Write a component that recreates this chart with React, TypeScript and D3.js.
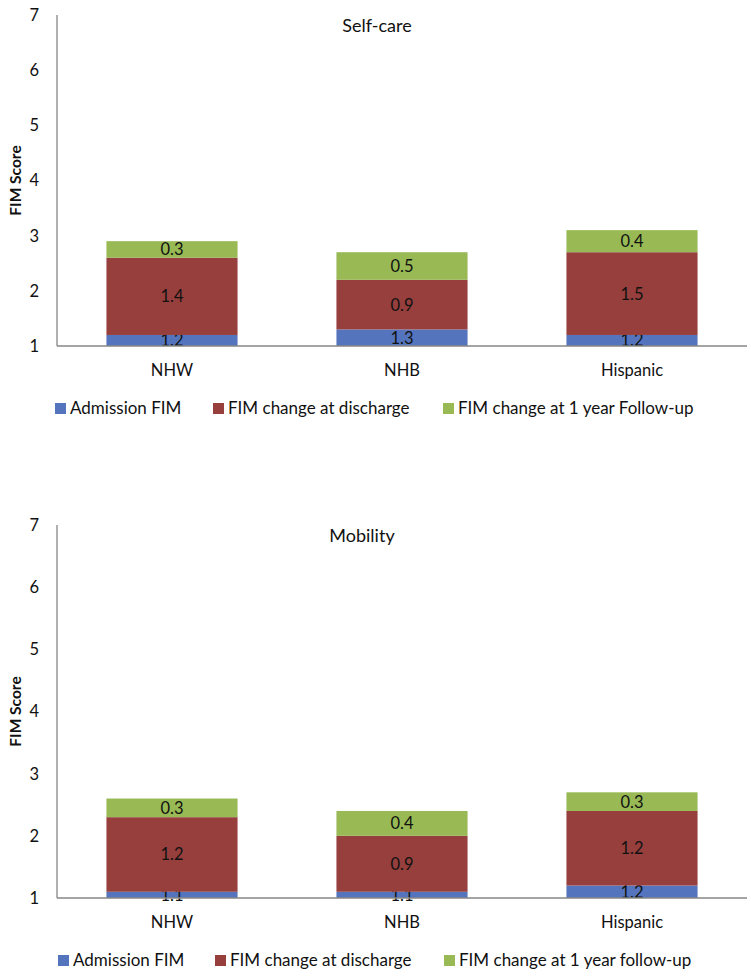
import React from 'react';
import * as d3 from 'd3';

const categories = ['NHW', 'NHB', 'Hispanic'];
const seriesKeys = ['admission', 'discharge', 'followUp'];
const seriesColors = ['#5475BD', '#963F3D', '#98B954'];

const selfCareAdmission = [1.2, 1.3, 1.2];
const selfCareDischarge = [1.4, 0.9, 1.5];
const selfCareFollowUp = [0.3, 0.5, 0.4];
const selfCareLegend = ['Admission FIM', 'FIM change at discharge', 'FIM change at 1 year Follow-up'];

const mobilityAdmission = [1.1, 1.1, 1.2];
const mobilityDischarge = [1.2, 0.9, 1.2];
const mobilityFollowUp = [0.3, 0.4, 0.3];
const mobilityLegend = ['Admission FIM', 'FIM change at discharge', 'FIM change at 1 year follow-up'];

const yTicks = [1, 2, 3, 4, 5, 6, 7];

const FONT = 'Lato, "Open Sans", sans-serif';

type PanelProps = {
  title: string;
  admission: number[];
  discharge: number[];
  followUp: number[];
  legend: string[];
  top: number;
  bottom: number;
  titleX: number;
  legendX: number[];
};

function Panel({ title, admission, discharge, followUp, legend, top, bottom, titleX, legendX }: PanelProps) {
  const left = 57;
  const right = 747;
  const rows = categories.map((c, i) => ({
    cat: c,
    admission: admission[i],
    discharge: discharge[i],
    followUp: followUp[i],
  }));
  const stacked = d3.stack<any>().keys(seriesKeys)(rows);
  const x = d3.scaleBand().domain(categories).range([left, right]).paddingInner(0.43).paddingOuter(0.215);
  const y = d3.scaleLinear().domain([1, 7]).range([bottom, top]).clamp(true);
  const mid = (top + bottom) / 2;
  return (
    <g fontFamily={FONT}>
      {stacked.map((s, si) =>
        s.map((d, i) => {
          const y0 = y(d[0]);
          const y1 = y(d[1]);
          const val = (d.data as any)[seriesKeys[si]];
          return (
            <g key={`${si}-${i}`}>
              <rect x={x(categories[i])} y={y1} width={x.bandwidth()} height={y0 - y1} fill={seriesColors[si]} />
              <text
                x={(x(categories[i]) as number) + x.bandwidth() / 2}
                y={(y0 + y1) / 2}
                dy="0.36em"
                textAnchor="middle"
                fontSize={16.5}
                fill="#111"
              >
                {val.toFixed(1)}
              </text>
            </g>
          );
        })
      )}
      <line x1={left} x2={left} y1={top} y2={bottom} stroke="#868686" strokeWidth={1.3} />
      <line x1={left} x2={right} y1={bottom} y2={bottom} stroke="#868686" strokeWidth={1.3} />
      {yTicks.map((t) => (
        <text key={t} x={39} y={y(t)} dy="0.36em" textAnchor="end" fontSize={16.5} fill="#111">
          {t}
        </text>
      ))}
      <text
        transform={`translate(15,${mid}) rotate(-90)`}
        textAnchor="middle"
        dy="0.36em"
        fontSize={15.5}
        fontWeight="bold"
        fill="#111"
      >
        FIM Score
      </text>
      {categories.map((c) => (
        <text
          key={c}
          x={(x(c) as number) + x.bandwidth() / 2}
          y={bottom + 24}
          dy="0.36em"
          textAnchor="middle"
          fontSize={16.5}
          fill="#111"
        >
          {c}
        </text>
      ))}
      <text x={titleX} y={top + 11} dy="0.36em" textAnchor="middle" fontSize={18} fill="#111">
        {title}
      </text>
      {legend.map((l, i) => (
        <g key={l} transform={`translate(${legendX[i]},${bottom + 62})`}>
          <rect x={0} y={-5} width={11} height={11} fill={seriesColors[i]} />
          <text x={15} y={0} dy="0.36em" fontSize={17} fill="#111">
            {l}
          </text>
        </g>
      ))}
    </g>
  );
}

export default function App() {
  return (
    <svg
      width={751}
      height={977}
      style={{ position: 'absolute', left: 0, top: 0, background: '#fff' }}
    >
      <rect width={751} height={977} fill="#fff" />
      <Panel
        title="Self-care"
        admission={selfCareAdmission}
        discharge={selfCareDischarge}
        followUp={selfCareFollowUp}
        legend={selfCareLegend}
        top={15}
        bottom={346}
        titleX={377}
        legendX={[55, 213, 443]}
      />
      <Panel
        title="Mobility"
        admission={mobilityAdmission}
        discharge={mobilityDischarge}
        followUp={mobilityFollowUp}
        legend={mobilityLegend}
        top={525}
        bottom={898}
        titleX={362}
        legendX={[58, 215, 444]}
      />
    </svg>
  );
}
